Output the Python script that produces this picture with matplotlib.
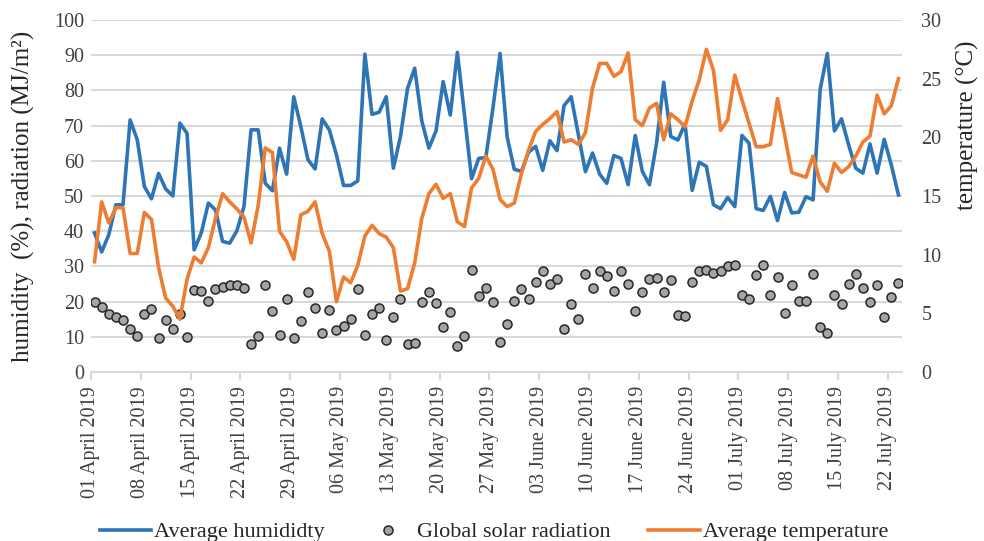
import numpy as np
import pandas as pd
import matplotlib
matplotlib.use("Agg")
import matplotlib.pyplot as plt
import matplotlib.transforms as mtransforms

plt.rcParams["font.family"] = ["Liberation Serif", "DejaVu Serif"]

# daily values, 01 April 2019 .. 23 July 2019
dates = pd.date_range("2019-04-01", periods=114, freq="D")

humidity = [
    39.5, 34.1, 39.0, 47.5, 47.5, 71.6, 66.0, 52.7, 49.2, 56.4, 52.0, 50.0, 70.7, 67.8, 34.7,
    39.5, 48.0, 46.0, 37.1, 36.6, 40.1, 47.0, 68.8, 68.8, 53.6, 51.5, 63.6, 56.2, 78.2,
    69.7, 60.3, 57.7, 71.9, 68.8, 61.7, 53.0, 53.0, 54.3, 90.3, 73.2, 73.8, 78.2, 57.9,
    66.9, 80.6, 86.3, 71.3, 63.6, 68.5, 82.5, 73.0, 90.8, 73.0, 54.9, 60.7, 60.9, 75.0,
    90.5, 66.7, 57.6, 57.0, 62.4, 64.1, 57.3, 65.7, 62.9, 75.7, 78.2, 67.5, 56.9, 62.2,
    56.2, 53.6, 61.5, 60.7, 53.2, 67.2, 57.0, 53.2, 65.0, 82.3, 66.9, 65.9, 70.5, 51.6,
    59.6, 58.4, 47.5, 46.4, 49.6, 47.0, 67.2, 65.0, 46.4, 45.9, 49.9, 43.0, 51.0, 45.2,
    45.4, 49.8, 48.9, 80.3, 90.5, 68.5, 71.9, 64.5, 57.9, 56.5, 64.8, 56.5, 66.1, 58.8, 50.3,
]

radiation = [
    19.9, 18.6, 16.6, 15.5, 14.9, 12.2, 10.1, 16.6, 18.0, 9.6, 14.7, 12.2, 16.5, 10.0, 23.4,
    23.1, 20.3, 23.6, 24.2, 24.8, 24.6, 24.0, 7.9, 10.3, 24.7, 17.2, 10.6, 20.7, 9.6,
    14.4, 22.6, 18.2, 11.1, 17.7, 12.0, 13.2, 15.1, 23.7, 10.4, 16.5, 18.2, 9.0, 15.5,
    20.7, 7.9, 8.2, 19.9, 22.7, 19.6, 12.7, 17.0, 7.3, 10.3, 28.9, 21.5, 23.8, 19.9,
    8.5, 13.7, 20.2, 23.7, 20.7, 25.5, 28.8, 25.0, 26.4, 12.2, 19.3, 15.0, 27.8, 23.8,
    28.6, 27.3, 22.9, 28.6, 25.0, 17.4, 22.6, 26.5, 26.7, 22.6, 26.0, 16.1, 15.9, 25.7,
    28.8, 29.0, 28.1, 28.6, 30.2, 30.3, 21.8, 20.8, 27.6, 30.3, 21.8, 26.9, 16.9, 24.6,
    20.2, 20.3, 27.9, 12.7, 11.1, 21.9, 19.4, 25.1, 27.8, 24.0, 20.0, 24.8, 15.6, 21.3, 25.3,
]

temperature = [
    9.4, 14.5, 12.7, 14.0, 14.0, 10.1, 10.1, 13.6, 13.0, 8.9, 6.3, 5.6, 4.5, 7.9, 9.8,
    9.3, 10.6, 13.1, 15.2, 14.5, 13.9, 13.2, 11.0, 14.2, 19.1, 18.7, 12.0, 11.1, 9.6,
    13.4, 13.7, 14.5, 11.8, 10.3, 6.0, 8.1, 7.6, 9.1, 11.6, 12.5, 11.8, 11.5, 10.6,
    6.9, 7.1, 9.3, 13.1, 15.2, 16.0, 14.8, 15.2, 12.8, 12.4, 15.7, 16.5, 18.4, 17.3,
    14.7, 14.1, 14.4, 16.9, 18.9, 20.5, 21.1, 21.6, 22.2, 19.6, 19.8, 19.4, 20.4, 24.2,
    26.3, 26.3, 25.2, 25.6, 27.2, 21.5, 21.0, 22.5, 22.9, 19.8, 22.0, 21.5, 20.9, 23.1,
    24.9, 27.5, 25.7, 20.6, 21.5, 25.3, 23.2, 21.2, 19.2, 19.2, 19.4, 23.3, 20.2, 17.0,
    16.8, 16.6, 18.4, 16.2, 15.4, 17.8, 17.0, 17.5, 18.4, 19.6, 20.1, 23.6, 22.0, 22.7, 25.0,
]

tick_every = 7
blue, orange, grid_col = "#2E75B6", "#ED7D31", "#D9D9D9"

fig = plt.figure(figsize=(9.84, 5.41), dpi=100)
ax = fig.add_axes([91 / 984, 1 - 372 / 541, 811 / 984, 352 / 541])
x = np.arange(len(dates))

h1, = ax.plot(x, humidity, color=blue, lw=2.6, label="Average humididty", zorder=3)
h2, = ax.plot(x, radiation, ls="none", marker="o", ms=6.5, mfc="#A5A5A5",
              mec="#262626", mew=1.1, label="Global solar radiation", zorder=4)
ax.set_ylim(0, 100)
ax.set_xlim(-0.5, len(dates) - 0.5)
ax.set_yticks(range(0, 101, 10))

ticks = x[::tick_every]
ax.set_xticks(ticks - 0.5)
ax.set_xticklabels(dates[::tick_every].strftime("%d %B %Y"))
shift = mtransforms.ScaledTranslation(3 / 100, 0, fig.dpi_scale_trans)
for lbl in ax.get_xticklabels():
    lbl.set_transform(lbl.get_transform() + shift)

ax.yaxis.grid(True, color=grid_col, lw=1.5)
ax.set_axisbelow(True)
for s in ["top", "left", "right"]:
    ax.spines[s].set_visible(False)
ax.spines["bottom"].set_color(grid_col)
ax.spines["bottom"].set_linewidth(1.5)
ax.tick_params(axis="y", length=0, pad=5, labelsize=14.5, labelcolor="#404040")
ax.tick_params(axis="x", length=6, width=1.5, color=grid_col, pad=4,
               labelsize=14.5, labelcolor="#404040", labelrotation=90)
ax.set_ylabel("humidity  (%), radiation (MJ/m²)", fontsize=18, color="#262626")
ax.yaxis.set_label_coords(-0.069, 0.5)

ax2 = ax.twinx()
h3, = ax2.plot(x, temperature, color=orange, lw=2.6, label="Average temperature", zorder=3)
ax2.set_ylim(0, 30)
ax2.set_yticks(range(0, 31, 5))
for s in ax2.spines.values():
    s.set_visible(False)
ax2.tick_params(axis="y", length=0, pad=14, labelsize=14.5, labelcolor="#404040")
ax2.set_ylabel("temperature (°C)", fontsize=18, color="#262626")
ax2.yaxis.set_label_coords(1.066, 0.70)

fig.legend(handles=[h1, h2, h3], loc="center", bbox_to_anchor=(0.502, 1 - 532 / 541),
           ncol=3, frameon=False, fontsize=16, handlelength=2.3, handletextpad=0.15,
           columnspacing=1.7, labelcolor="#262626")

fig.savefig("out.png", dpi=100)
